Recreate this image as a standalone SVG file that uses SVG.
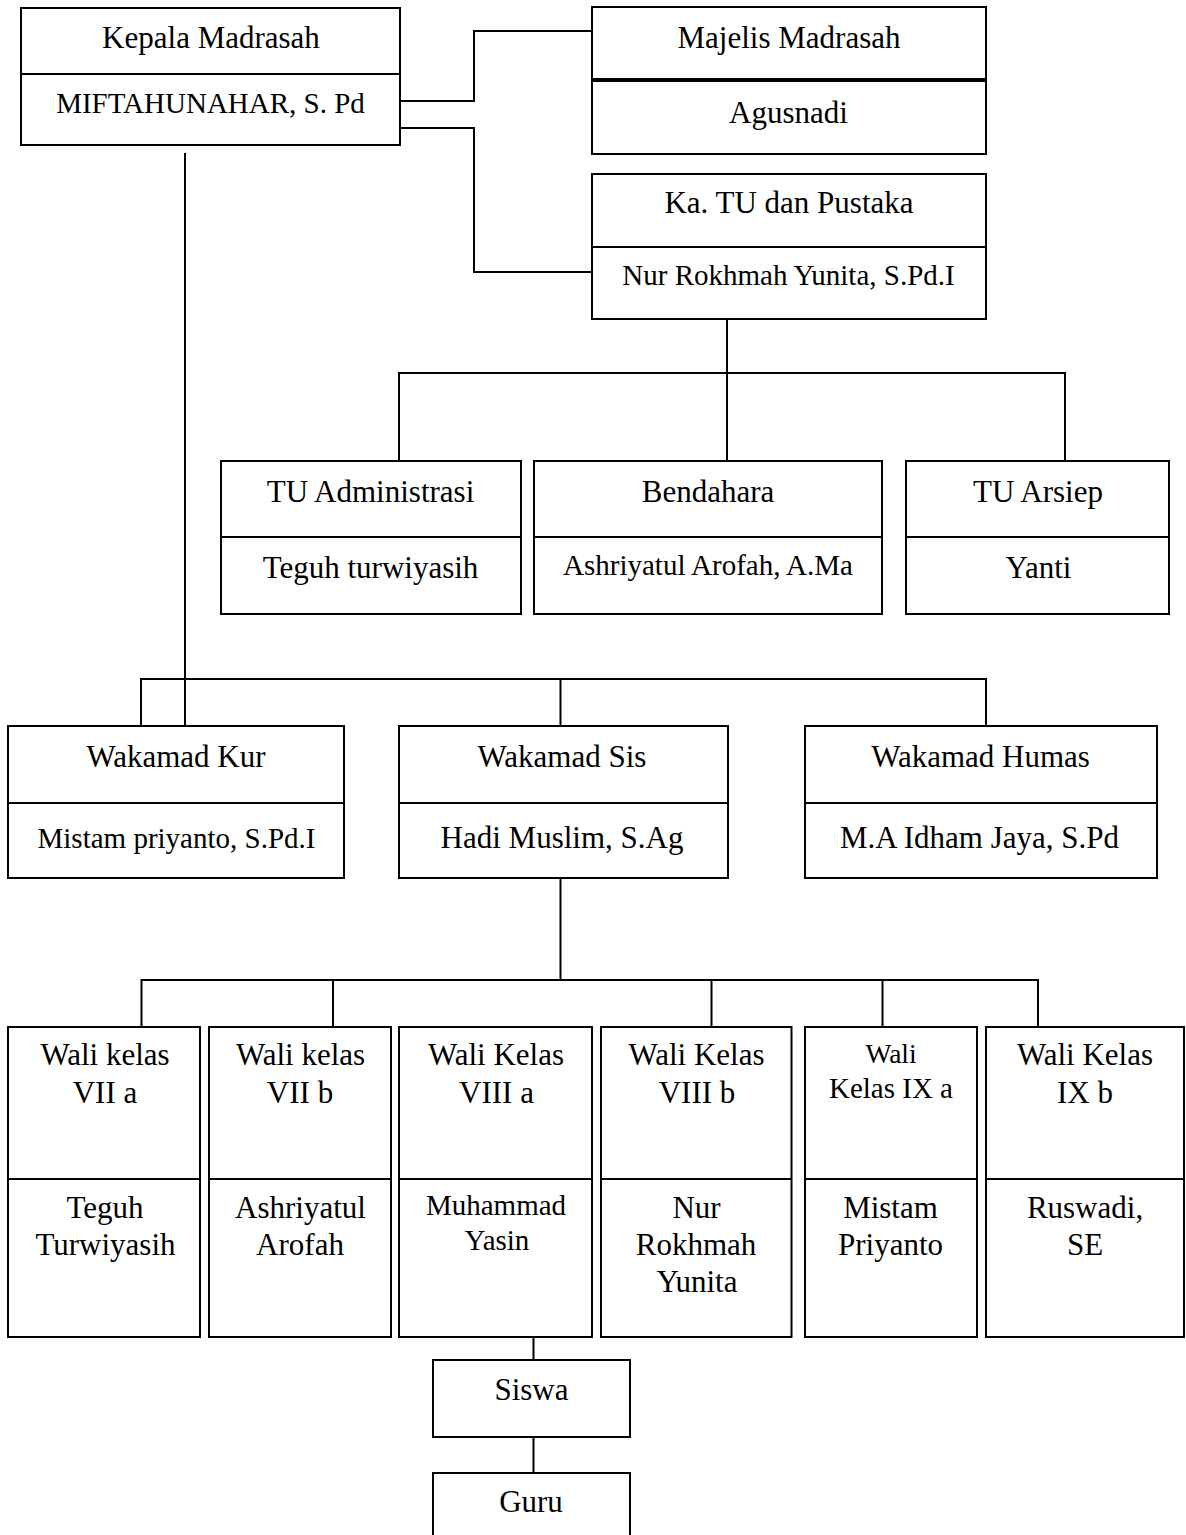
<svg xmlns="http://www.w3.org/2000/svg" width="1186" height="1535" viewBox="0 0 1186 1535">
<style>
.box{fill:#fff;stroke:#000;stroke-width:2}
.div{stroke:#000;stroke-width:2}
.con{fill:none;stroke:#000;stroke-width:2}
text{font-family:"Liberation Serif","Times New Roman",serif;fill:#000;text-anchor:middle}
.a{font-size:31px}
.b{font-size:29px}
.c{font-size:27.5px}
</style>
<rect width="1186" height="1535" fill="#fff"/>
<g id="connectors">
<path class="con" d="M400,101 H474 V31 H592"/>
<path class="con" d="M400,128 H474 V272 H592"/>
<path class="con" d="M185,153 V726"/>
<path class="con" d="M727,319 V373 M399,461 V373 H1065 V461 M727,373 V461"/>
<path class="con" d="M141,726 V679 H986 V726 M560.5,679 V726"/>
<path class="con" d="M560.5,878 V980 M141.5,1027 V980 H1038 V1027 M333,980 V1027 M711.5,980 V1027 M882.5,980 V1027"/>
<path class="con" d="M533.5,1337 V1360 M533.5,1437 V1473"/>
</g>
<g id="kepala">
<rect class="box" x="21" y="8" width="379" height="137"/>
<line class="div" x1="21" y1="74" x2="400" y2="74"/>
<text class="a" x="211" y="48">Kepala Madrasah</text>
<text class="b" x="210.5" y="113">MIFTAHUNAHAR, S. Pd</text>
</g>
<g id="majelis">
<rect class="box" x="592" y="7" width="394" height="72"/>
<rect class="box" x="592" y="81" width="394" height="73"/>
<text class="a" x="789" y="48">Majelis Madrasah</text>
<text class="a" x="788.5" y="123">Agusnadi</text>
</g>
<g id="katu">
<rect class="box" x="592" y="174" width="394" height="145"/>
<line class="div" x1="592" y1="247" x2="986" y2="247"/>
<text class="a" x="789" y="213">Ka. TU dan Pustaka</text>
<text class="b" x="788.5" y="285">Nur Rokhmah Yunita, S.Pd.I</text>
</g>
<g id="tu-admin">
<rect class="box" x="221" y="461" width="300" height="153"/>
<line class="div" x1="221" y1="537" x2="521" y2="537"/>
<text class="a" x="370.5" y="502">TU Administrasi</text>
<text class="a" x="370.5" y="578">Teguh turwiyasih</text>
</g>
<g id="bendahara">
<rect class="box" x="534" y="461" width="348" height="153"/>
<line class="div" x1="534" y1="537" x2="882" y2="537"/>
<text class="a" x="708" y="502">Bendahara</text>
<text class="b" x="708" y="575">Ashriyatul Arofah, A.Ma</text>
</g>
<g id="tu-arsiep">
<rect class="box" x="906" y="461" width="263" height="153"/>
<line class="div" x1="906" y1="537" x2="1169" y2="537"/>
<text class="a" x="1038" y="502">TU Arsiep</text>
<text class="a" x="1038.5" y="578">Yanti</text>
</g>
<g id="wakamad-kur">
<rect class="box" x="8" y="726" width="336" height="152"/>
<line class="div" x1="8" y1="803" x2="344" y2="803"/>
<text class="a" x="176" y="767">Wakamad Kur</text>
<text class="b" x="176.5" y="848">Mistam priyanto, S.Pd.I</text>
</g>
<g id="wakamad-sis">
<rect class="box" x="399" y="726" width="329" height="152"/>
<line class="div" x1="399" y1="803" x2="728" y2="803"/>
<text class="a" x="562" y="767">Wakamad Sis</text>
<text class="a" x="562" y="848">Hadi Muslim, S.Ag</text>
</g>
<g id="wakamad-humas">
<rect class="box" x="805" y="726" width="352" height="152"/>
<line class="div" x1="805" y1="803" x2="1157" y2="803"/>
<text class="a" x="980.5" y="767">Wakamad Humas</text>
<text class="a" x="979.5" y="848">M.A Idham Jaya, S.Pd</text>
</g>
<g id="wali-7a">
<rect class="box" x="8" y="1027" width="192" height="310"/>
<line class="div" x1="8" y1="1179" x2="200" y2="1179"/>
<text class="a" x="105" y="1065">Wali kelas</text>
<text class="a" x="105" y="1103">VII a</text>
<text class="a" x="105" y="1218">Teguh</text>
<text class="a" x="105.5" y="1255">Turwiyasih</text>
</g>
<g id="wali-7b">
<rect class="box" x="209" y="1027" width="182" height="310"/>
<line class="div" x1="209" y1="1179" x2="391" y2="1179"/>
<text class="a" x="300.5" y="1065">Wali kelas</text>
<text class="a" x="300" y="1103">VII b</text>
<text class="a" x="300.5" y="1218">Ashriyatul</text>
<text class="a" x="300" y="1255">Arofah</text>
</g>
<g id="wali-8a">
<rect class="box" x="399" y="1027" width="193" height="310"/>
<line class="div" x1="399" y1="1179" x2="592" y2="1179"/>
<text class="a" x="496" y="1065">Wali Kelas</text>
<text class="a" x="496.5" y="1103">VIII a</text>
<text class="b" x="496" y="1215">Muhammad</text>
<text class="b" x="497" y="1250">Yasin</text>
</g>
<g id="wali-8b">
<rect class="box" x="601" y="1027" width="190.5" height="310"/>
<line class="div" x1="601" y1="1179" x2="791.5" y2="1179"/>
<text class="a" x="696.5" y="1065">Wali Kelas</text>
<text class="a" x="697" y="1103">VIII b</text>
<text class="a" x="696.5" y="1218">Nur</text>
<text class="a" x="696" y="1255">Rokhmah</text>
<text class="a" x="697" y="1292">Yunita</text>
</g>
<g id="wali-9a">
<rect class="box" x="805" y="1027" width="172" height="310"/>
<line class="div" x1="805" y1="1179" x2="977" y2="1179"/>
<text class="c" x="891" y="1063">Wali</text>
<text class="b" x="891" y="1098">Kelas IX a</text>
<text class="a" x="890.5" y="1218">Mistam</text>
<text class="a" x="890.5" y="1255">Priyanto</text>
</g>
<g id="wali-9b">
<rect class="box" x="986" y="1027" width="198" height="310"/>
<line class="div" x1="986" y1="1179" x2="1184" y2="1179"/>
<text class="a" x="1085" y="1065">Wali Kelas</text>
<text class="a" x="1085" y="1103">IX b</text>
<text class="a" x="1085" y="1218">Ruswadi,</text>
<text class="a" x="1085" y="1255">SE</text>
</g>
<g id="siswa">
<rect class="box" x="433" y="1360" width="197" height="77"/>
<text class="a" x="531.5" y="1400">Siswa</text>
</g>
<g id="guru">
<rect class="box" x="433" y="1473" width="197" height="80"/>
<text class="a" x="531" y="1512">Guru</text>
</g>
</svg>
